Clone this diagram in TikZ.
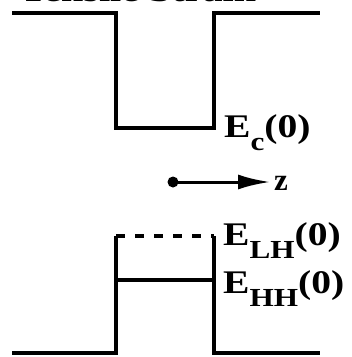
\documentclass[tikz,border=0pt]{standalone}
\usepackage{fontspec}
\setmainfont{Liberation Serif}
\usetikzlibrary{arrows.meta}
\newcommand{\lvltext}[1]{\scalebox{1.2}[1]{\bfseries E\raisebox{-0.42em}{\fontsize{26}{26}\selectfont #1}(0)}}
\begin{document}
\begin{tikzpicture}[x=1pt,y=-1pt,
  band/.style={line width=3.2pt, line cap=butt, line join=miter},
  lvl/.style={anchor=base west, inner sep=0pt, font=\fontsize{33}{33}\selectfont}]
\useasboundingbox (0,0) rectangle (352,357);
% title (cut off at top)
\node[anchor=base west, inner sep=0pt, font=\fontsize{34}{34}\selectfont\bfseries] (title) at (20,1.5) {\scalebox{1.18}[1]{Tensile Strain}};
% conduction band
\coordinate (c1) at (12,13);
\coordinate (c2) at (116,13);
\coordinate (c3) at (116,128);
\coordinate (c4) at (214,128);
\coordinate (c5) at (214,13);
\coordinate (c6) at (320,13);
\draw[band] (c1) -- (c2) -- (c3) -- (c4) -- (c5) -- (c6);
% valence band
\coordinate (v1) at (12,353);
\coordinate (v2) at (116,353);
\coordinate (v3) at (116,236);
\coordinate (v4) at (214,236);
\coordinate (v5) at (214,353);
\coordinate (v6) at (320,353);
\draw[band] (v1) -- (v2) -- (v3);
\draw[band] (v4) -- (v5) -- (v6);
\draw[band, dash pattern=on 9pt off 10pt] (v3) -- (v4);
\coordinate (h1) at (116,280);
\coordinate (h2) at (214,280);
\draw[band] (h1) -- (h2);
% labels
\node[lvl] (ec) at (224,137) {\lvltext{c}};
\node[lvl] (elh) at (223,245) {\lvltext{LH}};
\node[lvl] (ehh) at (223,293) {\lvltext{HH}};
% z arrow
\node[circle, fill, inner sep=0pt, minimum size=11pt] (dot) at (173,182) {};
\coordinate (tip) at (270,182);
\draw[line width=3pt, -{Latex[length=32pt,width=15pt]}] (dot.center) -- (tip);
\node[anchor=base west, inner sep=0pt, font=\fontsize{31}{31}\selectfont\bfseries] (z) at (274,190) {z};
\end{tikzpicture}
\end{document}
